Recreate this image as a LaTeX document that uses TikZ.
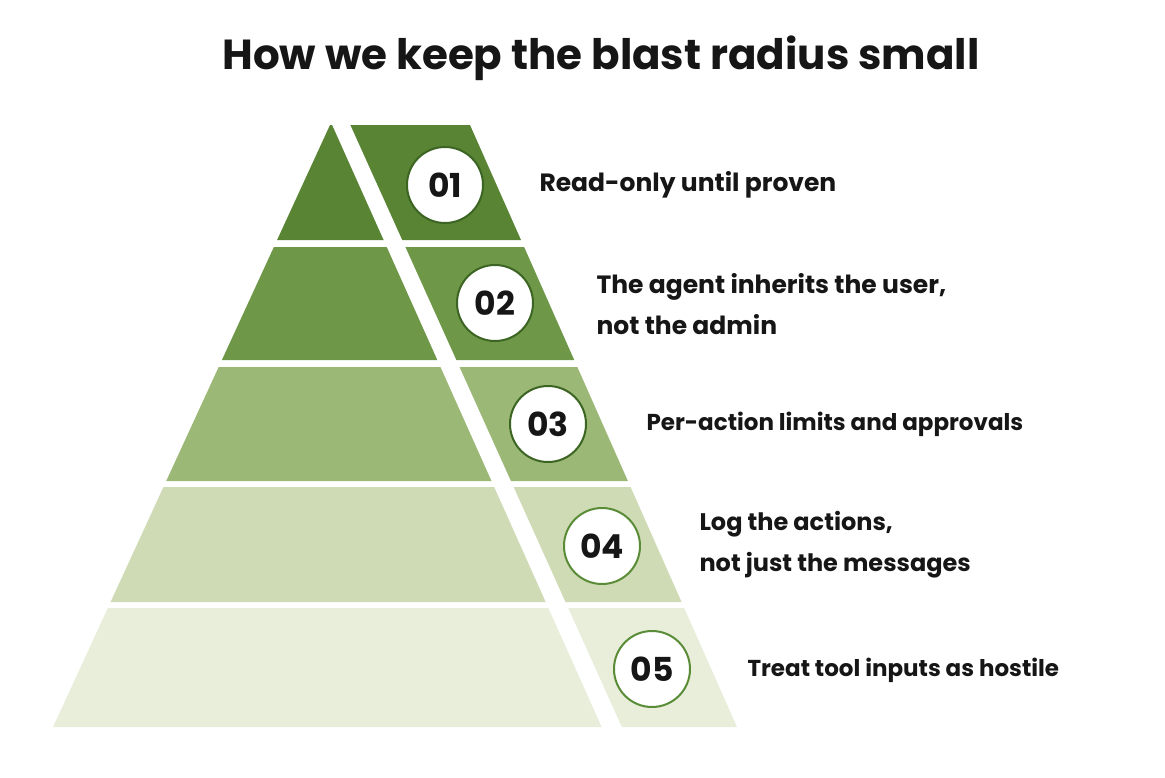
\documentclass[tikz,border=0pt]{standalone}
\usepackage{fontspec}
\setmainfont{Poppins}
\definecolor{tA}{RGB}{88,132,52}
\definecolor{tB}{RGB}{110,152,72}
\definecolor{tC}{RGB}{155,184,118}
\definecolor{tD}{RGB}{206,219,180}
\definecolor{tE}{RGB}{232,238,218}
\definecolor{ringdark}{RGB}{60,100,35}
\definecolor{ringgreen}{RGB}{90,140,55}
\definecolor{ink}{RGB}{22,22,22}
\tikzset{
  numcirc/.style={circle, fill=white, draw=#1, line width=2pt, minimum size=76pt, inner sep=0pt,
    font=\fontsize{33}{33}\selectfont\bfseries, text=ink},
  lbl/.style={anchor=west, align=left, font=\fontsize{#1}{41}\selectfont\bfseries, text=ink},
  lbl/.default=25,
}
\begin{document}
\begin{tikzpicture}[x=1pt,y=-1pt]
\useasboundingbox[fill=white] (0,0) rectangle (1165,777);
% tiers: left edge L(y)=330-0.46(y-125), right edge R(y)=470+0.4435(y-125)
\def\tier#1#2#3{%
  \fill[#3] ({330-0.46*(#1-125)},#1) -- ({470+0.4435*(#1-125)},#1) -- ({470+0.4435*(#2-125)},#2) -- ({330-0.46*(#2-125)},#2) -- cycle;}
\tier{125}{240}{tA}
\tier{247}{360}{tB}
\tier{367}{481}{tC}
\tier{487}{602}{tD}
\tier{608}{727}{tE}
% diagonal cut
\fill[white] (330,120) -- (348,120) -- (624,732) -- (604,732) -- cycle;
% circles
\node[numcirc=ringdark] (c1) at (445,185) {01};
\node[numcirc=ringdark] (c2) at (495,303) {02};
\node[numcirc=ringdark] (c3) at (548,424) {03};
\node[numcirc=ringgreen] (c4) at (602,546) {04};
\node[numcirc=ringgreen] (c5) at (652,669) {05};
% labels
\node[lbl=25] (l1) at (536,185) {Read-only until proven};
\node[lbl=25] (l2) at (593,304) {The agent inherits the user,\\not the admin};
\node[lbl=23] (l3) at (643,424) {Per-action limits and approvals};
\node[lbl=24] (l4) at (696,545) {Log the actions,\\not just the messages};
\node[lbl=23] (l5) at (744,670) {Treat tool inputs as hostile};
% title
\node[font=\fontsize{42}{48}\selectfont\bfseries, text=ink] (title) at (601,58) {How we keep the blast radius small};
\end{tikzpicture}
\end{document}
